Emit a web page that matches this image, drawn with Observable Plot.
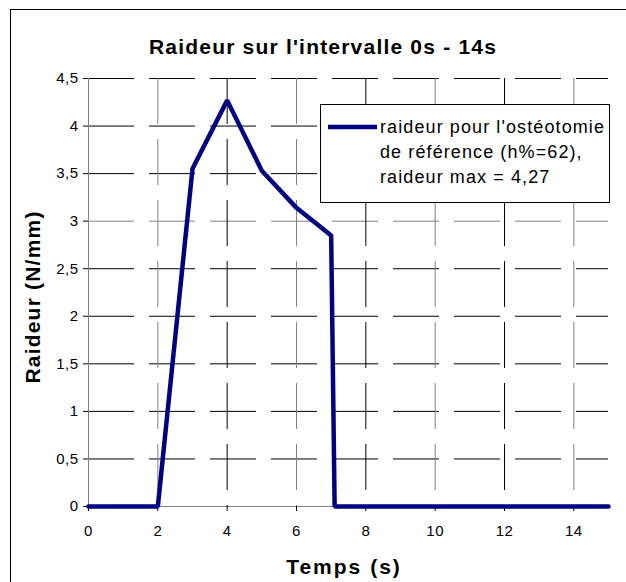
<!DOCTYPE html>
<html>
<head>
<meta charset="utf-8">
<script src="https://cdn.jsdelivr.net/npm/d3@7"></script>
<script src="https://cdn.jsdelivr.net/npm/@observablehq/plot@0.6"></script>
<style>
  html, body { margin: 0; padding: 0; background: white; }
  #chart { width: 626px; height: 582px; }
</style>
</head>
<body>
<div id="chart"></div>
<script>
// ---- data ----
const times   = [0, 1, 2, 3,    4,    5,    6,    7,    7.1, 8, 9, 10, 11, 12, 13, 14, 15];
const raideur = [0, 0, 0, 3.55, 4.27, 3.53, 3.14, 2.85, 0,   0, 0, 0,  0,  0,  0,  0,  0];
const yTicks = [0, 0.5, 1, 1.5, 2, 2.5, 3, 3.5, 4, 4.5];
const yTickLabels = ["0", "0,5", "1", "1,5", "2", "2,5", "3", "3,5", "4", "4,5"];
const xTicks = [0, 2, 4, 6, 8, 10, 12, 14];
const xTickLabels = ["0", "2", "4", "6", "8", "10", "12", "14"];
const yGridDark = [0.5, 1, 1.5, 2, 2.5, 3.5, 4, 4.5];
const yGridLight = [3];
const xGridDark = [4, 8, 12];
const xGridLight = [2, 6, 10, 14];
const titleText = "Raideur sur l'intervalle 0s - 14s";
const xLabel = "Temps (s)";
const yLabel = "Raideur (N/mm)";
const legendLines = ["raideur pour l'ostéotomie", "de référence (h%=62),", "raideur max = 4,27"];

const data = times.map((t, i) => ({t, r: raideur[i]}));
const font = "'Liberation Sans', Arial, sans-serif";

const plot = Plot.plot({
  width: 626,
  height: 582,
  marginLeft: 88,
  marginRight: 18,
  marginTop: 78,
  marginBottom: 76,
  x: {domain: [0, 15]},
  y: {domain: [0, 4.5]},
  style: {fontFamily: font, background: "white", color: "black", overflow: "visible"},
  marks: [
    Plot.ruleY(yGridDark, {stroke: "#000", strokeDasharray: "46,15"}),
    Plot.ruleY(yGridLight, {stroke: "#808080", strokeDasharray: "46,15"}),
    Plot.ruleX(xGridDark, {stroke: "#000", strokeDasharray: "46,15"}),
    Plot.ruleX(xGridLight, {stroke: "#808080", strokeDasharray: "46,15"}),
    Plot.ruleX([0], {stroke: "#808080"}),
    Plot.ruleY([0], {stroke: "#808080"}),
    Plot.axisY({ticks: yTicks, tickFormat: d => yTickLabels[yTicks.indexOf(d)], tickSize: 5, tickPadding: 5, fontSize: 15, label: null}),
    Plot.axisX({ticks: xTicks, tickFormat: d => xTickLabels[xTicks.indexOf(d)], tickSize: 5, tickPadding: 14, fontSize: 15, label: null}),
    Plot.line(data, {x: "t", y: "r", stroke: "#000080", strokeWidth: 4.5, strokeLinejoin: "miter"})
  ]
});

const svg = d3.select(plot);
svg.selectAll("g[aria-label='y-axis tick label'] text, g[aria-label='x-axis tick label'] text").attr("letter-spacing", "0.5px");
// outer frame
svg.append("rect").attr("x", 10.5).attr("y", 9.5).attr("width", 640).attr("height", 620)
  .attr("fill", "none").attr("stroke", "black").attr("stroke-width", 1);
// title
svg.append("text").attr("x", 323).attr("y", 54).attr("text-anchor", "middle")
  .attr("font-family", font).attr("font-size", 21).attr("font-weight", "bold")
  .attr("letter-spacing", "1.2px").attr("fill", "black").text(titleText);
// x label
svg.append("text").attr("x", 344).attr("y", 574).attr("text-anchor", "middle")
  .attr("font-family", font).attr("font-size", 21).attr("font-weight", "bold")
  .attr("letter-spacing", "2px").attr("fill", "black").text(xLabel);
// y label
svg.append("text").attr("transform", "translate(40,297) rotate(-90)").attr("text-anchor", "middle")
  .attr("font-family", font).attr("font-size", 21).attr("font-weight", "bold")
  .attr("letter-spacing", "1.2px").attr("fill", "black").text(yLabel);
// legend
const lg = svg.append("g");
lg.append("rect").attr("x", 320.5).attr("y", 104.5).attr("width", 289).attr("height", 98)
  .attr("fill", "white").attr("stroke", "black");
lg.append("line").attr("x1", 328).attr("x2", 377).attr("y1", 127).attr("y2", 127)
  .attr("stroke", "#000080").attr("stroke-width", 4.5);
legendLines.forEach((s, i) => {
  lg.append("text").attr("x", 380).attr("y", 133 + i * 25).attr("text-anchor", "start")
    .attr("font-family", font).attr("font-size", 18).attr("letter-spacing", "1.1px")
    .attr("fill", "black").text(s);
});

document.getElementById("chart").appendChild(plot);
</script>
</body>
</html>
